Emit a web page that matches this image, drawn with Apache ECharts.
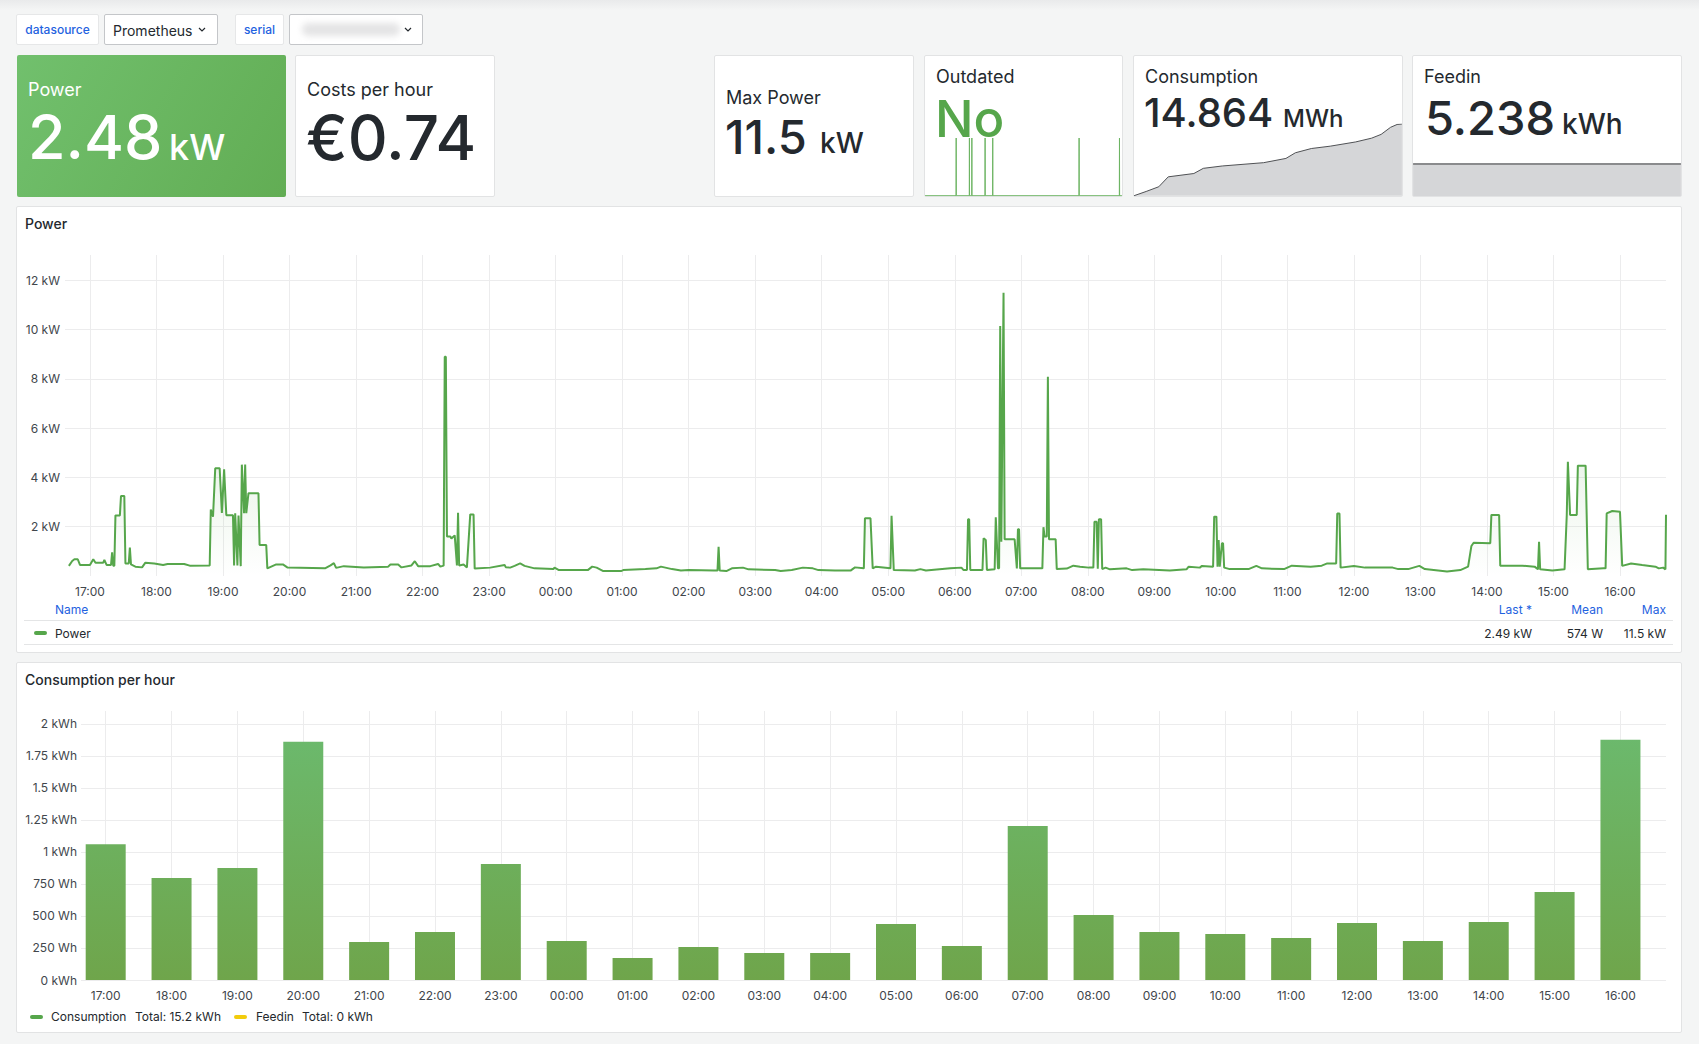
<!DOCTYPE html>
<html><head><meta charset="utf-8">
<script src="https://cdn.jsdelivr.net/npm/echarts@6/dist/echarts.min.js"></script>
<style>
html,body{margin:0;padding:0;}
body{width:1699px;height:1044px;background:#F4F5F5;position:relative;overflow:hidden;font-family:Inter,"Noto Sans",sans-serif;color:#24292E;}
.panel{position:absolute;background:#fff;border:1px solid #e2e3e4;border-radius:2px;box-sizing:border-box;}
.t{position:absolute;white-space:nowrap;line-height:1;}
.lbl{position:absolute;background:#fff;border:1px solid #e6e7e8;border-radius:2px;box-sizing:border-box;color:#1F62E0;font-size:12px;font-weight:500;display:flex;align-items:center;justify-content:center;}
.dd{position:absolute;background:#fff;border:1px solid #c4c6c9;border-radius:2px;box-sizing:border-box;}
.r{text-align:right;}
#chart{position:absolute;left:0;top:0;width:1699px;height:1044px;z-index:2;pointer-events:none;}
</style></head>
<body>
<div style="position:absolute;left:0;top:0;width:1699px;height:10px;background:linear-gradient(#e9eaeb,#F4F5F5);"></div>

<!-- variables row -->
<div class="lbl" style="left:16px;top:14px;width:83px;height:31px;">datasource</div>
<div class="dd" style="left:104px;top:14px;width:114px;height:31px;"></div>
<div class="t" style="left:113px;top:24px;font-size:14px;">Prometheus</div>
<svg style="position:absolute;left:198px;top:27px" width="8" height="6"><polyline points="1,1 4,4 7,1" stroke="#24292E" fill="none" stroke-width="1.2"/></svg>
<div class="lbl" style="left:235px;top:14px;width:49px;height:31px;">serial</div>
<div class="dd" style="left:289px;top:14px;width:134px;height:31px;"></div>
<div style="position:absolute;left:302px;top:23px;width:98px;height:13px;background:#e4e4e5;filter:blur(3px);border-radius:6px;"></div>
<svg style="position:absolute;left:404px;top:27px" width="8" height="6"><polyline points="1,1 4,4 7,1" stroke="#24292E" fill="none" stroke-width="1.2"/></svg>

<!-- stat panels -->
<div style="position:absolute;left:17px;top:55px;width:269px;height:142px;border-radius:2px;background:linear-gradient(120deg,#71C06D,#62AD54);"></div>
<div class="t" style="left:28px;top:81px;font-size:18px;color:#fff;">Power</div>
<div class="t" style="left:28px;top:107px;font-size:61px;font-weight:500;color:#fff;">2.48</div>
<div class="t" style="left:169px;top:129px;font-size:36px;font-weight:500;color:#fff;">kW</div>

<div class="panel" style="left:295px;top:55px;width:200px;height:142px;"></div>
<div class="t" style="left:307px;top:80.5px;font-size:18px;">Costs per hour</div>
<div class="t" style="left:306px;top:107px;font-size:62px;font-weight:500;">€0.74</div>

<div class="panel" style="left:714px;top:55px;width:200px;height:142px;"></div>
<div class="t" style="left:726px;top:88.5px;font-size:18px;">Max Power</div>
<div class="t" style="left:725px;top:112.5px;font-size:47px;font-weight:500;">11.5</div>
<div class="t" style="left:820px;top:129px;font-size:28px;font-weight:500;">kW</div>

<div class="panel" style="left:924px;top:55px;width:199px;height:142px;"></div>
<div class="t" style="left:936px;top:68px;font-size:18px;">Outdated</div>
<div class="t" style="left:935px;top:93px;font-size:51px;font-weight:500;color:#56A64B;">No</div>

<div class="panel" style="left:1133px;top:55px;width:270px;height:142px;"></div>
<div class="t" style="left:1145px;top:68px;font-size:18px;">Consumption</div>
<div class="t" style="left:1144px;top:93px;font-size:40px;font-weight:500;">14.864</div>
<div class="t" style="left:1283px;top:106.5px;font-size:24px;font-weight:500;">MWh</div>

<div class="panel" style="left:1412px;top:55px;width:270px;height:142px;"></div>
<div class="t" style="left:1424px;top:68px;font-size:18px;">Feedin</div>
<div class="t" style="left:1425px;top:93.5px;font-size:47px;font-weight:500;">5.238</div>
<div class="t" style="left:1562px;top:110px;font-size:28px;font-weight:500;">kWh</div>

<!-- power panel -->
<div class="panel" style="left:16px;top:206px;width:1666px;height:447px;"></div>
<div class="t" style="left:25px;top:217px;font-size:14px;font-weight:500;">Power</div>
<div class="t" style="left:55px;top:604px;font-size:12px;color:#1F62E0;">Name</div>
<div class="t r" style="left:1432px;width:100px;top:604px;font-size:12px;color:#1F62E0;">Last *</div>
<div class="t r" style="left:1503px;width:100px;top:604px;font-size:12px;color:#1F62E0;">Mean</div>
<div class="t r" style="left:1566px;width:100px;top:604px;font-size:12px;color:#1F62E0;">Max</div>
<div style="position:absolute;left:24px;top:620px;width:1649px;height:1px;background:#e4e5e6;"></div>
<div style="position:absolute;left:34px;top:631px;width:13px;height:4px;border-radius:2px;background:#56A64B;"></div>
<div class="t" style="left:55px;top:628px;font-size:12px;">Power</div>
<div class="t r" style="left:1432px;width:100px;top:628px;font-size:12px;">2.49 kW</div>
<div class="t r" style="left:1503px;width:100px;top:628px;font-size:12px;">574 W</div>
<div class="t r" style="left:1566px;width:100px;top:628px;font-size:12px;">11.5 kW</div>
<div style="position:absolute;left:24px;top:644px;width:1649px;height:1px;background:#e4e5e6;"></div>

<!-- consumption panel -->
<div class="panel" style="left:16px;top:662px;width:1666px;height:371px;"></div>
<div class="t" style="left:25px;top:673px;font-size:14px;font-weight:500;">Consumption per hour</div>
<div style="position:absolute;left:30px;top:1015px;width:13px;height:4px;border-radius:2px;background:#56A64B;"></div>
<div class="t" style="left:51px;top:1010.5px;font-size:12px;">Consumption</div>
<div class="t" style="left:135px;top:1010.5px;font-size:12px;">Total: 15.2 kWh</div>
<div style="position:absolute;left:234px;top:1015px;width:13px;height:4px;border-radius:2px;background:#F2CC0C;"></div>
<div class="t" style="left:256px;top:1010.5px;font-size:12px;">Feedin</div>
<div class="t" style="left:302px;top:1010.5px;font-size:12px;">Total: 0 kWh</div>

<div id="chart"></div>
<script>
// ---------- data ----------
const powerTimes = ["16:41","16:44","16:46","16:49","16:51","17:00","17:03","17:05","17:12","17:13","17:15","17:19","17:20","17:21","17:22","17:23","17:27","17:28","17:31","17:32","17:35","17:36","17:37","17:41","17:47","17:50","17:58","18:06","18:10","18:25","18:30","18:48","18:49","18:51","18:53","18:57","18:59","19:01","19:03","19:09","19:10","19:11","19:13","19:14","19:16","19:17","19:19","19:20","19:21","19:23","19:32","19:33","19:39","19:40","19:48","19:54","19:58","20:32","20:37","20:40","20:42","20:49","21:07","21:29","21:31","21:38","21:41","21:50","21:53","21:56","22:07","22:14","22:16","22:19","22:20","22:21","22:22","22:25","22:26","22:29","22:31","22:32","22:33","22:37","22:40","22:43","22:46","22:47","23:01","23:14","23:15","23:19","23:23","23:28","23:32","23:41","23:58","23:59","00:03","00:29","00:33","00:37","00:43","00:59","01:01","01:21","01:31","01:35","01:45","01:53","02:00","02:23","02:26","02:27","02:28","02:34","02:39","02:49","02:54","03:18","03:23","03:33","03:43","03:52","03:57","04:12","04:26","04:30","04:38","04:39","04:44","04:46","04:49","05:02","05:03","05:05","05:24","05:29","05:34","05:56","06:06","06:08","06:11","06:12","06:13","06:14","06:25","06:26","06:28","06:29","06:36","06:37","06:39","06:40","06:41","06:42","06:44","06:45","06:54","06:56","06:57","06:58","06:59","07:19","07:20","07:21","07:23","07:24","07:25","07:31","07:32","07:41","07:47","07:53","08:01","08:05","08:06","08:08","08:09","08:10","08:12","08:13","08:16","08:20","08:35","08:40","08:50","09:14","09:29","09:31","09:41","09:43","09:53","09:54","09:56","09:57","09:58","09:59","10:01","10:02","10:03","10:08","10:25","10:32","10:37","10:57","11:04","11:21","11:31","11:36","11:44","11:45","11:47","11:48","12:00","12:10","12:35","12:40","12:49","12:59","13:04","13:24","13:36","13:43","13:46","13:48","14:03","14:04","14:11","14:12","14:32","14:43","14:46","14:47","14:48","14:59","15:10","15:12","15:13","15:15","15:21","15:22","15:29","15:31","15:45","15:47","15:48","15:53","16:00","16:02","16:10","16:20","16:32","16:35","16:39","16:41","16:41:30"];
const powerValues = [0.41,0.61,0.68,0.68,0.45,0.45,0.68,0.54,0.54,0.65,0.45,0.45,0.96,0.42,0.42,2.46,2.46,3.25,3.25,0.51,0.51,1.15,0.47,0.38,0.35,0.54,0.51,0.45,0.49,0.49,0.42,0.43,2.7,2.41,4.37,4.37,2.56,4.33,2.47,2.47,0.43,2.55,0.43,2.45,0.40,4.52,2.55,4.52,2.55,3.36,3.36,1.26,1.26,0.31,0.47,0.47,0.35,0.31,0.43,0.52,0.33,0.40,0.35,0.38,0.47,0.47,0.35,0.43,0.60,0.40,0.40,0.49,0.38,0.42,8.9,8.9,1.60,1.60,1.52,1.65,0.43,2.57,0.43,0.47,0.35,2.50,2.50,0.30,0.34,0.45,0.36,0.34,0.41,0.51,0.41,0.31,0.28,0.34,0.24,0.24,0.38,0.34,0.20,0.20,0.24,0.28,0.31,0.38,0.28,0.22,0.24,0.22,0.22,1.19,0.22,0.20,0.31,0.34,0.27,0.24,0.20,0.24,0.34,0.31,0.24,0.22,0.22,0.35,0.31,2.34,2.34,0.31,0.38,0.31,2.44,0.24,0.22,0.28,0.22,0.31,0.34,0.24,0.24,2.30,2.30,0.24,0.24,1.53,1.46,0.24,0.27,2.38,0.31,0.31,10.15,1.39,11.5,1.49,1.49,0.31,1.90,1.90,0.31,0.31,1.98,1.60,1.60,8.09,1.49,1.49,0.28,0.30,0.42,0.38,0.34,0.34,2.20,2.20,0.30,2.30,2.30,0.28,0.34,0.27,0.31,0.24,0.27,0.22,0.27,0.38,0.34,0.41,0.38,2.41,2.41,0.38,1.46,0.38,1.33,1.33,0.34,0.28,0.28,0.41,0.31,0.28,0.42,0.38,0.42,0.51,0.51,2.54,2.54,0.34,0.41,0.34,0.34,0.28,0.28,0.41,0.28,0.18,0.24,0.38,1.22,1.35,1.33,2.48,2.48,0.42,0.42,0.38,0.27,1.39,0.27,0.22,0.27,2.48,4.64,2.48,2.48,4.48,4.48,0.27,0.31,0.31,2.54,2.64,2.61,0.41,0.51,0.45,0.38,0.31,0.34,0.27,2.49];

const consumptionHours = ["17:00","18:00","19:00","20:00","21:00","22:00","23:00","00:00","01:00","02:00","03:00","04:00","05:00","06:00","07:00","08:00","09:00","10:00","11:00","12:00","13:00","14:00","15:00","16:00"];
const consumptionValues = [1.06,0.797,0.875,1.86,0.297,0.375,0.906,0.305,0.172,0.258,0.211,0.211,0.4375,0.266,1.203,0.508,0.375,0.359,0.328,0.445,0.305,0.453,0.6875,1.875];

const outdatedTimes = ["16:38","20:25","20:26","20:27","22:02","22:03","22:04","22:20","22:21","22:22","23:57","23:58","23:59","00:53","00:54","00:55","11:26","11:27","11:28","16:22","16:23","16:24","16:41"];
const outdatedValues = [0,0,1,0,0,1,0,0,1,0,0,1,0,0,1,0,0,1,0,0,1,0,0];

const meterTimes = ["16:38","17:43","18:51","19:42","22:00","22:51","00:33","04:16","06:16","07:07","08:33","10:15","12:32","13:58","14:49","15:40","16:15","16:41"];
const meterValues = [14.8488,14.8497,14.8507,14.8528,14.8535,14.8546,14.8551,14.8558,14.8567,14.8579,14.8588,14.8593,14.8602,14.8610,14.8618,14.8633,14.8639,14.8640];

const feedinTimes = ["16:38","04:00","16:41"];
const feedinValues = [5.238,5.238,5.238];

const powerTicks = [2,4,6,8,10,12];

// ---------- helpers ----------
function toTs(list){
  let day = 0, prev = -1;
  return list.map(s => {
    const p = s.split(':').map(Number);
    const m = p[0]*60 + p[1] + (p[2]||0)/60;
    if (m < prev) day++;
    prev = m;
    return new Date(2024,4,1+day,p[0],p[1],p[2]||0).getTime();
  });
}
const pair = (ts, vals) => ts.map((t,i)=>[t, vals[i]]);
const START = new Date(2024,4,1,16,37,30).getTime();
const END = new Date(2024,4,2,16,41,30).getTime();
const HOUR = 3600*1000;
const pad = n => (n<10?'0':'')+n;
const timeFmt = v => { const d = new Date(v); if (d.getMinutes()!==0 || d.getSeconds()!==0) return ''; return pad(d.getHours())+':00'; };
const AXC = '#41464c', GRID = '#ececed', GREEN = '#56A64B';
const FONT = 'Inter';

function timeAxis(grid, show){
  return {
    type:'time', gridIndex:grid, min:START, max:END, minInterval:HOUR, maxInterval:HOUR,
    show: show,
    axisLine:{show:false}, axisTick:{show:false},
    axisLabel:{show:show, formatter:timeFmt, color:AXC, fontSize:12, fontFamily:FONT, margin:9, hideOverlap:false},
    splitLine:{show:show, showMinLine:false, showMaxLine:false, lineStyle:{color:GRID, width:1}}
  };
}

const barFill = new echarts.graphic.LinearGradient(0, 711, 0, 980,
  [{offset:0, color:'#6BBB70'},{offset:1, color:'#6FA54B'}], true);

const chart = echarts.init(document.getElementById('chart'), null, {renderer:'svg', width:1699, height:1044});
chart.setOption({
  animation:false,
  backgroundColor:'transparent',
  grid:[
    {left:65, right:33, top:255, bottom:468, outerBoundsMode:'none'},
    {left:81, right:33, top:711, bottom:64, outerBoundsMode:'none'},
    {left:925, width:197, top:138, bottom:1044-195.7, outerBoundsMode:'none'},
    {left:1134, width:268, top:124, bottom:1044-195.7, outerBoundsMode:'none'},
    {left:1413, width:268, top:132, bottom:1044-196, outerBoundsMode:'none'}
  ],
  xAxis:[ timeAxis(0,true), timeAxis(1,true), timeAxis(2,false), timeAxis(3,false), timeAxis(4,false) ],
  yAxis:[
    {type:'value', gridIndex:0, min:0, max:13.03, interval:2,
     axisLine:{show:false}, axisTick:{show:false},
     axisLabel:{color:AXC, fontSize:12, fontFamily:FONT, margin:5, showMinLabel:false, showMaxLabel:false,
       formatter:v => powerTicks.indexOf(v) >= 0 ? v+' kW' : ''},
     splitLine:{showMinLine:false, showMaxLine:false, lineStyle:{color:GRID, width:1}}},
    {type:'value', gridIndex:1, min:0, max:2.1, interval:0.25,
     axisLine:{show:false}, axisTick:{show:false},
     axisLabel:{color:AXC, fontSize:12, fontFamily:FONT, margin:4, showMaxLabel:false,
       formatter:v => v===0 ? '0 kWh' : (v>=1 ? v+' kWh' : Math.round(v*1000)+' Wh')},
     splitLine:{showMaxLine:false, lineStyle:{color:GRID, width:1}}},
    {type:'value', gridIndex:2, min:0, max:1, show:false},
    {type:'value', gridIndex:3, min:14.8488, max:14.8640, show:false},
    {type:'value', gridIndex:4, min:4.238, max:6.238, show:false}
  ],
  series:[
    {type:'line', name:'Power', xAxisIndex:0, yAxisIndex:0, data:pair(toTs(powerTimes), powerValues),
     showSymbol:false, lineStyle:{color:GREEN, width:2}, itemStyle:{color:GREEN},
     areaStyle:{color:{type:'linear', x:0, y:255, x2:0, y2:576, global:true,
       colorStops:[{offset:0, color:'rgba(86,166,75,0.46)'},{offset:1, color:'rgba(86,166,75,0.0)'}]}}},
    {type:'custom', name:'Consumption', xAxisIndex:1, yAxisIndex:1, data:pair(toTs(consumptionHours), consumptionValues),
     encode:{x:0, y:1},
     renderItem:(params, api) => {
       const top = api.coord([api.value(0), api.value(1)]);
       const base = api.coord([api.value(0), 0]);
       return {type:'rect', shape:{x:top[0]-20, y:top[1], width:40, height:base[1]-top[1]}, style:{fill:barFill}};
     }},
    {type:'line', xAxisIndex:2, yAxisIndex:2, data:pair(toTs(outdatedTimes), outdatedValues),
     showSymbol:false, lineStyle:{color:'#6DB463', width:1}},
    {type:'line', xAxisIndex:3, yAxisIndex:3, data:pair(toTs(meterTimes), meterValues),
     showSymbol:false, lineStyle:{color:'#4f5154', width:1}, areaStyle:{color:'#d5d6d8', opacity:1}},
    {type:'line', xAxisIndex:4, yAxisIndex:4, data:pair(toTs(feedinTimes), feedinValues),
     showSymbol:false, lineStyle:{color:'#8a8b8d', width:2}, areaStyle:{color:'#d5d6d8', opacity:1, origin:'start'}}
  ]
});
</script>
</body></html>
